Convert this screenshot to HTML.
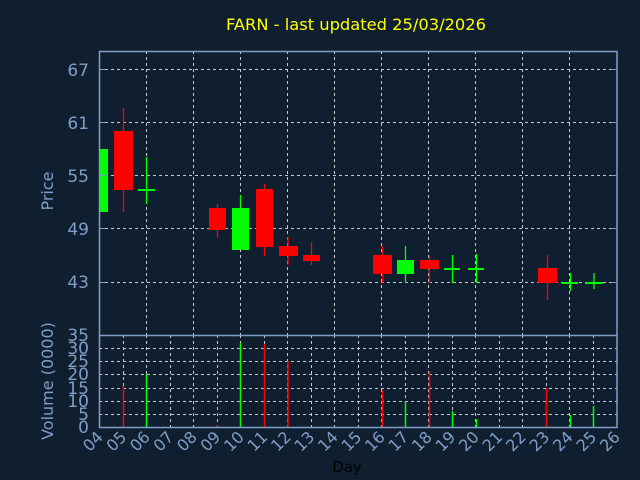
<!DOCTYPE html>
<html><head><meta charset="utf-8"><style>html,body{margin:0;padding:0;background:#101f30}svg{display:block}</style></head>
<body>
<svg width="640" height="480" xmlns="http://www.w3.org/2000/svg" font-family="DejaVu Sans, Liberation Sans, sans-serif">
<rect width="640" height="480" fill="#101f30"/>
<text x="356" y="30" fill="#ffff00" font-size="16.3" text-anchor="middle">FARN - last updated 25/03/2026</text>
<g stroke="#c8c8c8" stroke-width="1" stroke-dasharray="3,3" fill="none">
<line x1="99" y1="69.5" x2="617" y2="69.5"/><line x1="99" y1="122.5" x2="617" y2="122.5"/>
<line x1="99" y1="175.5" x2="617" y2="175.5"/><line x1="99" y1="228.5" x2="617" y2="228.5"/>
<line x1="99" y1="282.5" x2="617" y2="282.5"/>
<line x1="146.5" y1="51" x2="146.5" y2="335"/><line x1="193.5" y1="51" x2="193.5" y2="335"/>
<line x1="240.5" y1="51" x2="240.5" y2="335"/><line x1="287.5" y1="51" x2="287.5" y2="335"/>
<line x1="334.5" y1="51" x2="334.5" y2="335"/><line x1="381.5" y1="51" x2="381.5" y2="335"/>
<line x1="428.5" y1="51" x2="428.5" y2="335"/><line x1="475.5" y1="51" x2="475.5" y2="335"/>
<line x1="522.5" y1="51" x2="522.5" y2="335"/><line x1="569.5" y1="51" x2="569.5" y2="335"/>
<line x1="99" y1="348.5" x2="617" y2="348.5"/><line x1="99" y1="361.5" x2="617" y2="361.5"/>
<line x1="99" y1="374.5" x2="617" y2="374.5"/><line x1="99" y1="388.5" x2="617" y2="388.5"/>
<line x1="99" y1="401.5" x2="617" y2="401.5"/><line x1="99" y1="414.5" x2="617" y2="414.5"/>
<line x1="123.5" y1="335" x2="123.5" y2="427"/><line x1="146.5" y1="335" x2="146.5" y2="427"/><line x1="170.5" y1="335" x2="170.5" y2="427"/><line x1="193.5" y1="335" x2="193.5" y2="427"/><line x1="217.5" y1="335" x2="217.5" y2="427"/><line x1="240.5" y1="335" x2="240.5" y2="427"/><line x1="264.5" y1="335" x2="264.5" y2="427"/><line x1="287.5" y1="335" x2="287.5" y2="427"/><line x1="311.5" y1="335" x2="311.5" y2="427"/><line x1="334.5" y1="335" x2="334.5" y2="427"/><line x1="358.5" y1="335" x2="358.5" y2="427"/><line x1="381.5" y1="335" x2="381.5" y2="427"/><line x1="405.5" y1="335" x2="405.5" y2="427"/><line x1="428.5" y1="335" x2="428.5" y2="427"/><line x1="452.5" y1="335" x2="452.5" y2="427"/><line x1="475.5" y1="335" x2="475.5" y2="427"/><line x1="499.5" y1="335" x2="499.5" y2="427"/><line x1="522.5" y1="335" x2="522.5" y2="427"/><line x1="546.5" y1="335" x2="546.5" y2="427"/><line x1="569.5" y1="335" x2="569.5" y2="427"/><line x1="593.5" y1="335" x2="593.5" y2="427"/>
</g>
<g stroke-width="1.3">
<line x1="123.5" y1="108" x2="123.5" y2="212" stroke="#ff0000"/>
<line x1="146.5" y1="157" x2="146.5" y2="204" stroke="#00ff00"/>
<line x1="217.5" y1="204" x2="217.5" y2="238" stroke="#ff0000"/>
<line x1="240.5" y1="195" x2="240.5" y2="250" stroke="#00ff00"/>
<line x1="264.5" y1="184" x2="264.5" y2="256" stroke="#ff0000"/>
<line x1="288" y1="237" x2="288" y2="265" stroke="#ff0000"/>
<line x1="311.5" y1="242" x2="311.5" y2="265" stroke="#ff0000"/>
<line x1="382.5" y1="246" x2="382.5" y2="283" stroke="#ff0000"/>
<line x1="405.5" y1="246" x2="405.5" y2="283" stroke="#00ff00"/>
<line x1="429.5" y1="255" x2="429.5" y2="283" stroke="#ff0000"/>
<line x1="452.5" y1="255" x2="452.5" y2="283" stroke="#00ff00"/>
<line x1="476.5" y1="254" x2="476.5" y2="283" stroke="#00ff00"/>
<line x1="547.5" y1="255" x2="547.5" y2="300" stroke="#ff0000"/>
<line x1="570.5" y1="273" x2="570.5" y2="291" stroke="#00ff00"/>
<line x1="594" y1="273" x2="594" y2="289" stroke="#00ff00"/>
</g>
<rect x="99" y="149" width="9" height="63" fill="#00ff00"/>
<rect x="114" y="131" width="19" height="59" fill="#ff0000"/>
<rect x="138" y="189" width="17" height="2" fill="#00ff00"/>
<rect x="209" y="208" width="17" height="22" fill="#ff0000"/>
<rect x="232" y="208" width="17" height="42" fill="#00ff00"/>
<rect x="256" y="189" width="17" height="58" fill="#ff0000"/>
<rect x="279" y="246" width="19" height="10" fill="#ff0000"/>
<rect x="303" y="255" width="17" height="6" fill="#ff0000"/>
<rect x="373" y="255" width="19" height="19" fill="#ff0000"/>
<rect x="397" y="260" width="17" height="14" fill="#00ff00"/>
<rect x="420" y="260" width="19" height="9" fill="#ff0000"/>
<rect x="444" y="268" width="16" height="2" fill="#00ff00"/>
<rect x="468" y="268" width="16" height="2" fill="#00ff00"/>
<rect x="538" y="268" width="19" height="15" fill="#ff0000"/>
<rect x="562" y="282" width="16" height="2" fill="#00ff00"/>
<rect x="585" y="282" width="18" height="2" fill="#00ff00"/>
<g stroke-width="1.5">
<line x1="123.5" y1="386" x2="123.5" y2="427" stroke="#ff0000"/>
<line x1="146.5" y1="374" x2="146.5" y2="427" stroke="#00ff00"/>
<line x1="217.5" y1="425" x2="217.5" y2="427" stroke="#ff0000"/>
<line x1="240.5" y1="343" x2="240.5" y2="427" stroke="#00ff00"/>
<line x1="264.5" y1="344" x2="264.5" y2="427" stroke="#ff0000"/>
<line x1="288" y1="361" x2="288" y2="427" stroke="#ff0000"/>
<line x1="382.5" y1="390" x2="382.5" y2="427" stroke="#ff0000"/>
<line x1="405.5" y1="402" x2="405.5" y2="427" stroke="#00ff00"/>
<line x1="429.5" y1="371" x2="429.5" y2="427" stroke="#ff0000"/>
<line x1="452.5" y1="411" x2="452.5" y2="427" stroke="#00ff00"/>
<line x1="476.5" y1="419" x2="476.5" y2="427" stroke="#00ff00"/>
<line x1="546.5" y1="388" x2="546.5" y2="427" stroke="#ff0000"/>
<line x1="570.5" y1="415" x2="570.5" y2="427" stroke="#00ff00"/>
<line x1="593.5" y1="406" x2="593.5" y2="427" stroke="#00ff00"/>
</g>
<g stroke="#7f9fc8" stroke-width="1.5" fill="none">
<rect x="99.5" y="51.5" width="517.5" height="376"/>
<line x1="99" y1="335.5" x2="617" y2="335.5"/>
</g>
<g stroke="#7f9fc8" stroke-width="1">
<line x1="99" y1="69.5" x2="105" y2="69.5"/><line x1="99" y1="122.5" x2="105" y2="122.5"/><line x1="99" y1="175.5" x2="105" y2="175.5"/><line x1="99" y1="228.5" x2="105" y2="228.5"/><line x1="99" y1="282.5" x2="105" y2="282.5"/>
<line x1="611" y1="69.5" x2="617" y2="69.5"/><line x1="611" y1="122.5" x2="617" y2="122.5"/><line x1="611" y1="175.5" x2="617" y2="175.5"/><line x1="611" y1="228.5" x2="617" y2="228.5"/><line x1="611" y1="282.5" x2="617" y2="282.5"/>
</g>
<g fill="#7f9fc8" font-size="17" text-anchor="end">
<text x="89" y="76">67</text><text x="89" y="129">61</text><text x="89" y="182">55</text><text x="89" y="235">49</text><text x="89" y="288">43</text>
<text x="89" y="341">35</text><text x="89" y="354">30</text><text x="89" y="367">25</text><text x="89" y="380">20</text><text x="89" y="394">15</text><text x="89" y="407">10</text><text x="89" y="420">5</text><text x="89" y="433">0</text>
</g>
<g fill="#7f9fc8" font-size="16" text-anchor="end">
<text transform="translate(104,438) rotate(-45)">04</text>
<text transform="translate(127.5,438) rotate(-45)">05</text>
<text transform="translate(151,438) rotate(-45)">06</text>
<text transform="translate(174.5,438) rotate(-45)">07</text>
<text transform="translate(198,438) rotate(-45)">08</text>
<text transform="translate(221.5,438) rotate(-45)">09</text>
<text transform="translate(245,438) rotate(-45)">10</text>
<text transform="translate(268.5,438) rotate(-45)">11</text>
<text transform="translate(292,438) rotate(-45)">12</text>
<text transform="translate(315.5,438) rotate(-45)">13</text>
<text transform="translate(339,438) rotate(-45)">14</text>
<text transform="translate(362.5,438) rotate(-45)">15</text>
<text transform="translate(386,438) rotate(-45)">16</text>
<text transform="translate(409.5,438) rotate(-45)">17</text>
<text transform="translate(433,438) rotate(-45)">18</text>
<text transform="translate(456.5,438) rotate(-45)">19</text>
<text transform="translate(480,438) rotate(-45)">20</text>
<text transform="translate(503.5,438) rotate(-45)">21</text>
<text transform="translate(527,438) rotate(-45)">22</text>
<text transform="translate(550.5,438) rotate(-45)">23</text>
<text transform="translate(574,438) rotate(-45)">24</text>
<text transform="translate(597.5,438) rotate(-45)">25</text>
<text transform="translate(621,438) rotate(-45)">26</text>
</g>
<text x="347" y="472" fill="#000000" font-size="15" text-anchor="middle">Day</text>
<text transform="translate(53,191) rotate(-90)" fill="#7f9fc8" font-size="16" text-anchor="middle">Price</text>
<text transform="translate(53,381) rotate(-90)" fill="#7f9fc8" font-size="16" text-anchor="middle">Volume (0000)</text>
</svg>
</body></html>
